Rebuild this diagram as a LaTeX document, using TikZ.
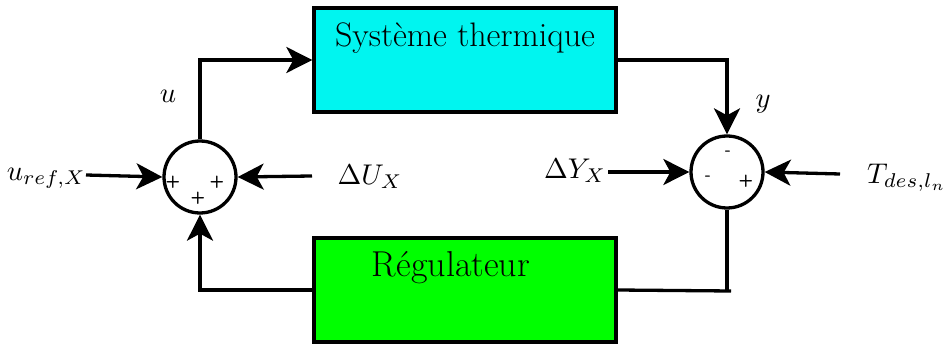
\documentclass[tikz,border=0pt]{standalone}
\usepackage{graphicx}
\usepackage{fontspec}
\usetikzlibrary{arrows.meta}
\definecolor{cyanbox}{RGB}{0,245,240}
\definecolor{greenbox}{RGB}{0,255,0}
\newcommand{\mylbl}[1]{\scalebox{2.85}{$#1$}}
\begin{document}
\begin{tikzpicture}[x=1pt,y=-1pt,
  wire/.style={line width=3.3pt},
  arr/.style={wire,-{Stealth[length=26pt,width=26pt,inset=7pt]}},
  blk/.style={draw,line width=3.3pt,minimum width=302pt,minimum height=104pt,inner sep=0pt},
  sumc/.style={draw,circle,line width=3.3pt,minimum size=72pt,inner sep=0pt},
  sgn/.style={font=\fontsize{17}{19}\selectfont\sffamily\bfseries,inner sep=0pt},
  lbl/.style={inner sep=0pt},
  btxt/.style={inner sep=0pt}]
\useasboundingbox (0,0) rectangle (944,344);
% blocks
\node[blk,fill=cyanbox] (sys) at (465,60) {};
\node[btxt,font=\fontsize{34}{38}\selectfont] (systxt) at (465,38) {Système thermique};
\node[blk,fill=greenbox] (reg) at (465,290) {};
\node[btxt,font=\fontsize{36}{40}\selectfont] (regtxt) at (451,268) {Régulateur};
% summing junctions
\node[sumc] (sl) at (200,177) {};
\node[sumc] (sr) at (727,172) {};
% signs
\node[sgn] (p1) at (173,182) {+};
\node[sgn] (p2) at (217,182) {+};
\node[sgn] (p3) at (198,198) {+};
\node[sgn] (m1) at (728,153) {-};
\node[sgn] (m2) at (708,178) {-};
\node[sgn] (p4) at (746,181) {+};
% labels
\node[lbl] (lu) at (168,96) {\mylbl{u}};
\node[lbl] (ly) at (763,104) {\mylbl{y}};
\node[lbl,anchor=east] (luref) at (86,178) {\mylbl{u_{ref,X}}};
\node[lbl] (ldu) at (370,177) {\mylbl{\Delta U_X}};
\node[lbl] (ldy) at (575,171) {\mylbl{\Delta Y_X}};
\node[lbl,anchor=west] (lt) at (867,178) {\mylbl{T_{des,l_n}}};
% coordinates
\coordinate (cu) at (86,175);
\coordinate (cdu) at (312,176);
\coordinate (cdy) at (608,172);
\coordinate (ct) at (840,174);
\coordinate (cend) at (731,291);
% connectors
\draw[arr] (sl.north) |- (sys.west);
\draw[arr] (sys.east) -| (sr.north);
\draw[wire] (sr.south) -- ++(0,82);
\draw[wire] (reg.east) -- (cend);
\draw[arr] (reg.west) -| (sl.south);
\draw[arr] (cu) -- (sl.west);
\draw[arr] (cdu) -- (sl.east);
\draw[arr] (cdy) -- (sr.west);
\draw[arr] (ct) -- (sr.east);
\end{tikzpicture}
\end{document}
